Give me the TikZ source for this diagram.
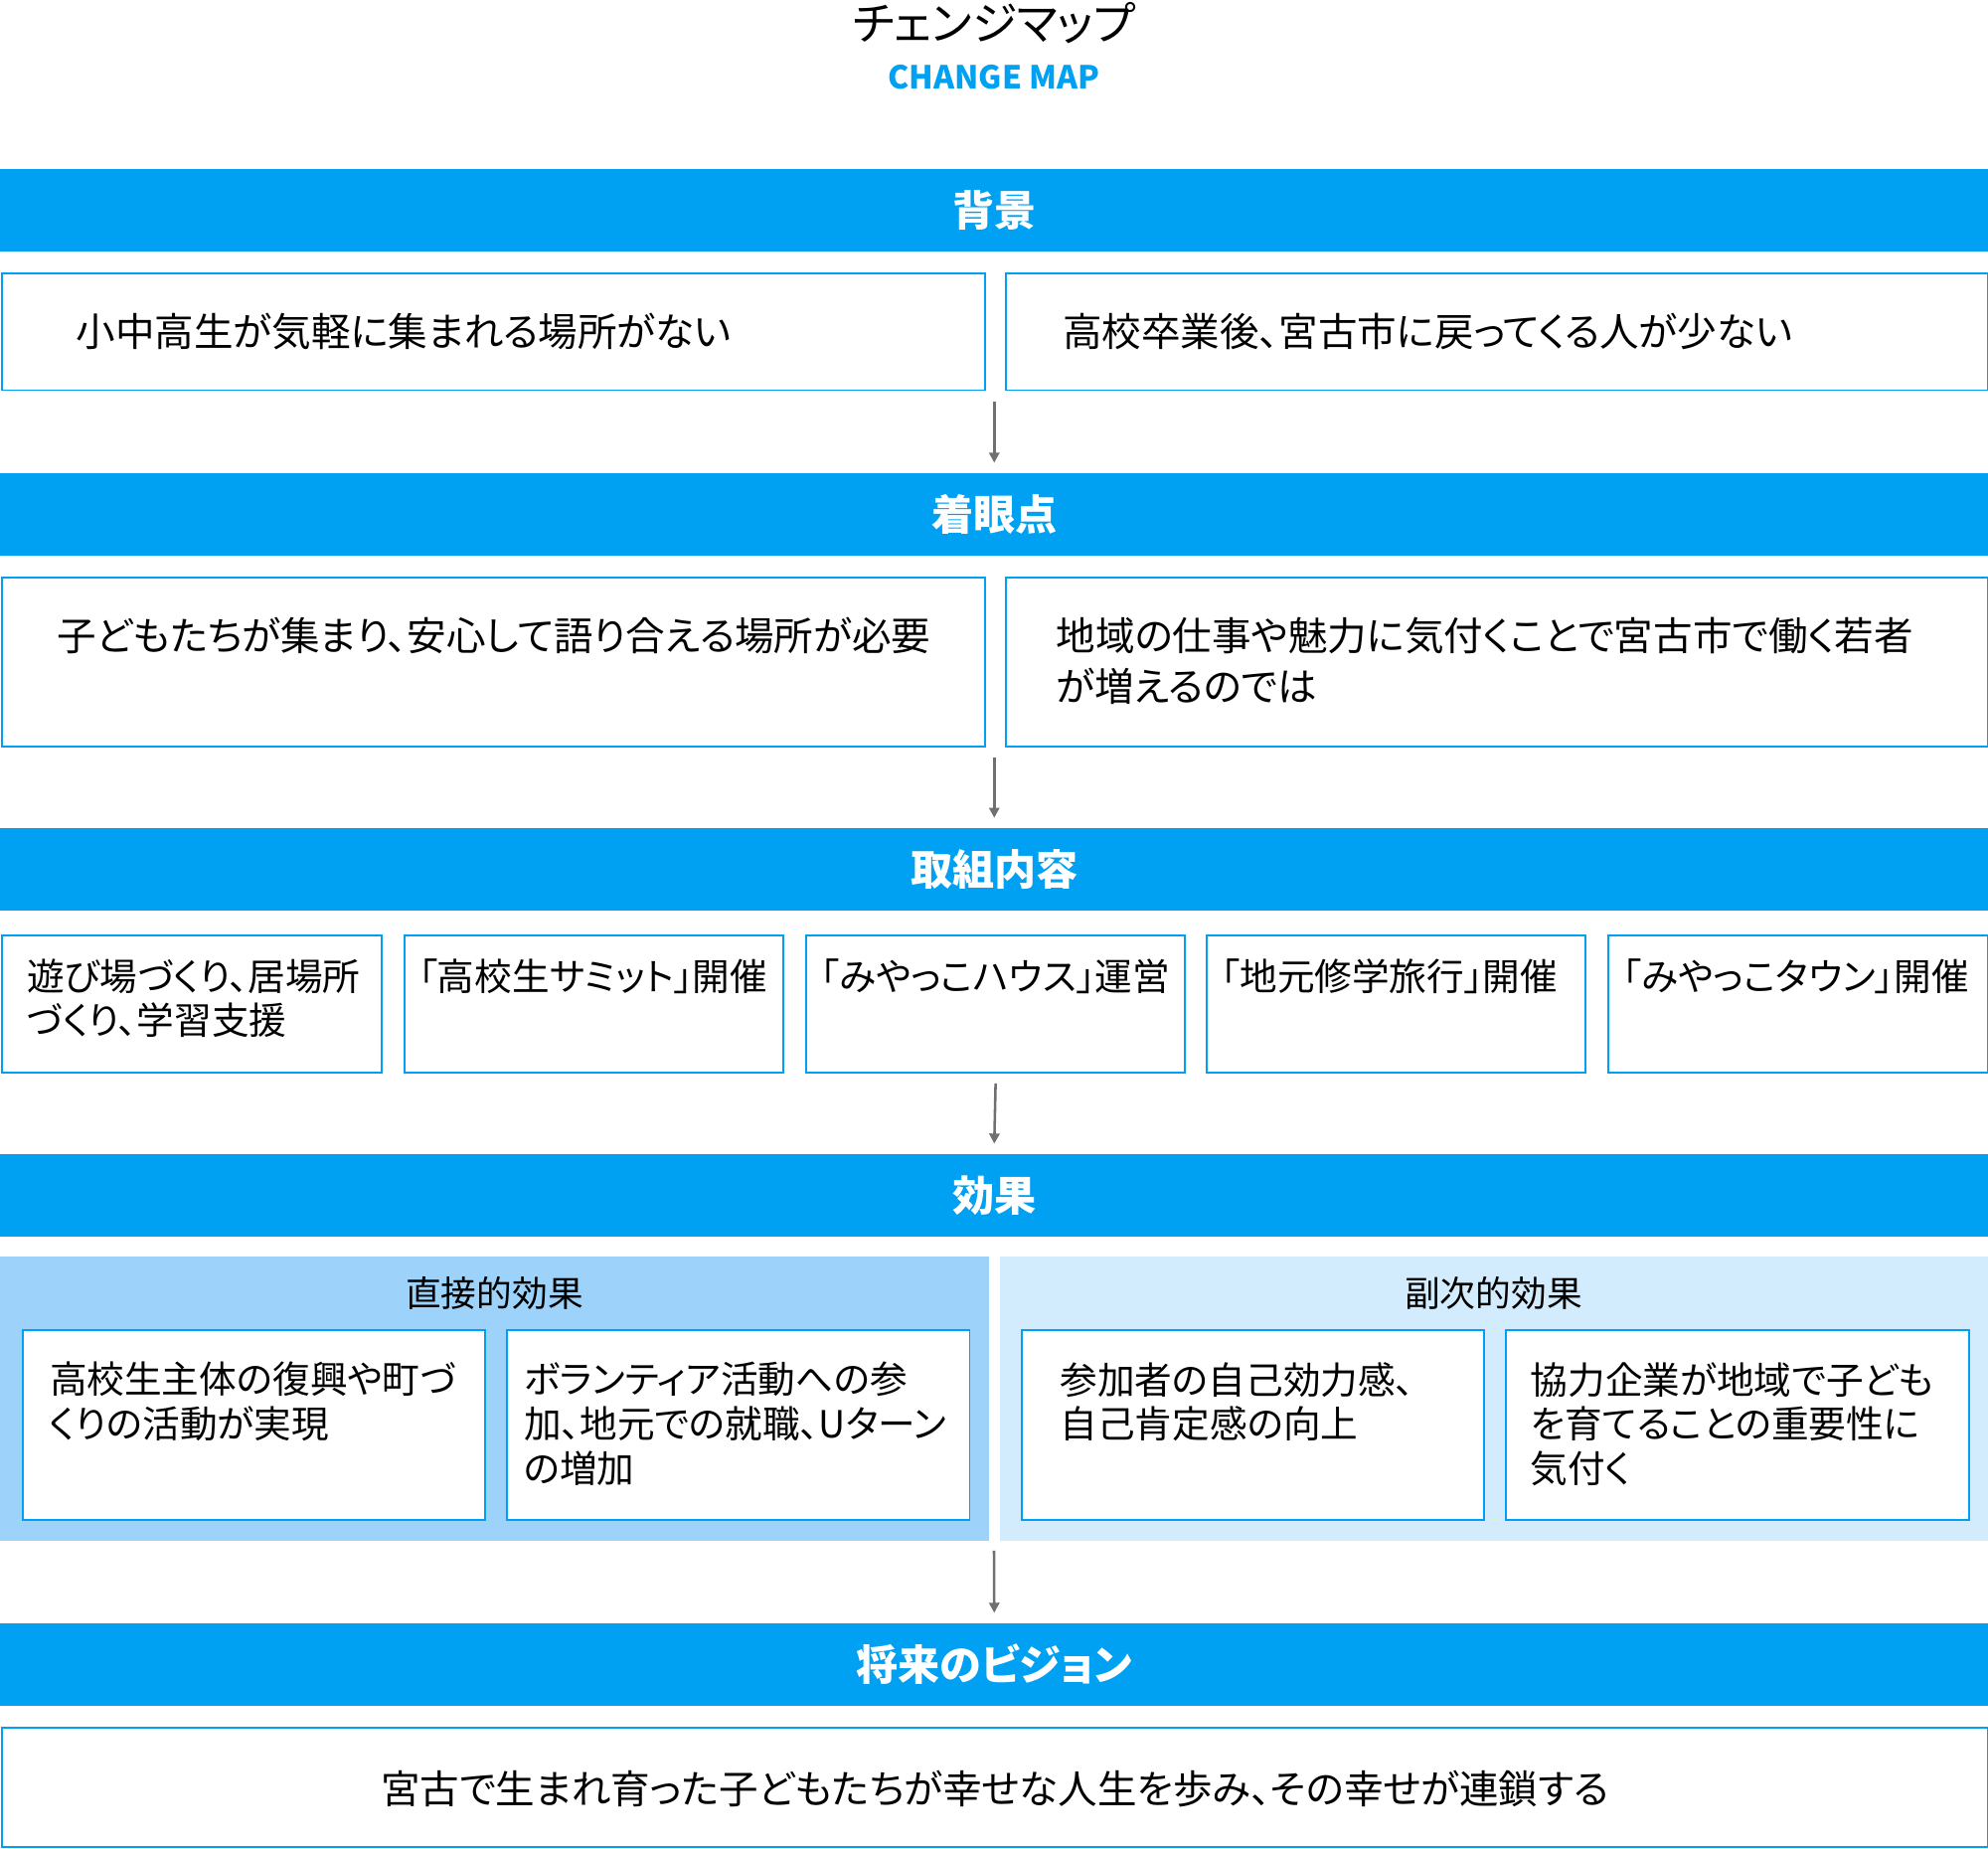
\documentclass[tikz,border=0pt]{standalone}
\usepackage{fontspec}
\setmainfont{Noto Sans CJK JP}[RawFeature=+palt]
\usetikzlibrary{arrows.meta}
\definecolor{bb}{HTML}{00A0F2}
\definecolor{pa}{HTML}{9DD3FB}
\definecolor{pb}{HTML}{D2EBFD}
\definecolor{ar}{HTML}{707070}
\tikzset{
 bar/.style={fill=bb,draw=none,anchor=north west,minimum width=1568pt,minimum height=65pt,inner sep=0,text=white,font=\fontsize{33}{36}\selectfont\bfseries},
 box/.style={draw=bb,line width=1.5pt,fill=white,anchor=north west,inner sep=0},
 txt/.style={anchor=north west,inner sep=0,align=left,font=\fontsize{31}{40}\selectfont},
 stxt/.style={anchor=north west,inner sep=0,align=left,font=\fontsize{29.5}{35}\selectfont},
 arr/.style={draw=ar,line width=2pt,-{Triangle[length=8pt,width=8pt]}}
}
\begin{document}
\begin{tikzpicture}[x=1pt,y=-1pt]
\useasboundingbox (0,0) rectangle (1568,1458);
\node[font=\fontsize{36}{40}\selectfont] (t) at (784,18) {チェンジマップ};
\node[font=\fontsize{25}{28}\selectfont\bfseries,text=bb] (t2) at (784,61) {CHANGE MAP};
% row 1
\node[bar] (bar1) at (0,133) {背景};
\node[box,minimum width=775pt,minimum height=92pt] (b1l) at (1,215) {};
\node[box,minimum width=774pt,minimum height=92pt] (b1r) at (793,215) {};
\node[txt] at (60,247) {小中高生が気軽に集まれる場所がない};
\node[txt] at (838,247) {高校卒業後、宮古市に戻ってくる人が少ない};
\node[bar] (bar2) at (0,373) {着眼点};
\draw[arr] ([yshift=-8pt]b1l.south -| bar2.north) -- ([yshift=8pt]bar2.north);
\node[box,minimum width=775pt,minimum height=133pt] (b2l) at (1,455) {};
\node[box,minimum width=774pt,minimum height=133pt] (b2r) at (793,455) {};
\node[txt] at (45,487) {子どもたちが集まり、安心して語り合える場所が必要};
\node[txt] at (833,487) {地域の仕事や魅力に気付くことで宮古市で働く若者\\が増えるのでは};
\node[bar] (bar3) at (0,653) {取組内容};
\draw[arr] ([yshift=-8pt]b2l.south -| bar3.north) -- ([yshift=8pt]bar3.north);
\foreach \x/\n in {1/c1,318/c2,635/c3,951/c4,1268/c5}{
 \node[box,minimum width=299pt,minimum height=108pt] (\n) at (\x,737) {};}
\node[stxt] at (21,756) {遊び場づくり、居場所\\づくり、学習支援};
\node[stxt] at (330,756) {「高校生サミット」開催};
\node[stxt] at (647,756) {「みやっこハウス」運営};
\node[stxt] at (963,756) {「地元修学旅行」開催};
\node[stxt] at (1280,756) {「みやっこタウン」開催};
\node[bar] (bar4) at (0,910) {効果};
\draw[arr] ([yshift=-8pt]c3.south) -- ([yshift=8pt]bar4.north);
\fill[pa] (0,991) rectangle (780,1215);
\fill[pb] (789,991) rectangle (1568,1215);
\node[font=\fontsize{28}{30}\selectfont] (l1) at (390,1020) {直接的効果};
\node[font=\fontsize{28}{30}\selectfont] (l2) at (1178,1020) {副次的効果};
\foreach \x/\n in {17/e1,399/e2,805/e3,1187/e4}{
 \node[box,minimum width=365pt,minimum height=150pt] (\n) at (\x,1048) {};}
\node[stxt] at (39,1074) {高校生主体の復興や町づ\\くりの活動が実現};
\node[stxt] at (413,1074) {ボランティア活動への参\\加、地元での就職、Uターン\\の増加};
\node[stxt] at (836,1074) {参加者の自己効力感、\\自己肯定感の向上};
\node[stxt] at (1207,1074) {協力企業が地域で子ども\\を育てることの重要性に\\気付く};
\node[bar] (bar5) at (0,1280) {将来のビジョン};
\draw[arr] (784,1223) -- ([yshift=8pt]bar5.north);
\node[box,minimum width=1566pt,minimum height=94pt] (v) at (1,1362) {};
\node[font=\fontsize{31}{35}\selectfont] at ([yshift=-1pt]v.center) {宮古で生まれ育った子どもたちが幸せな人生を歩み、その幸せが連鎖する};
\end{tikzpicture}
\end{document}
